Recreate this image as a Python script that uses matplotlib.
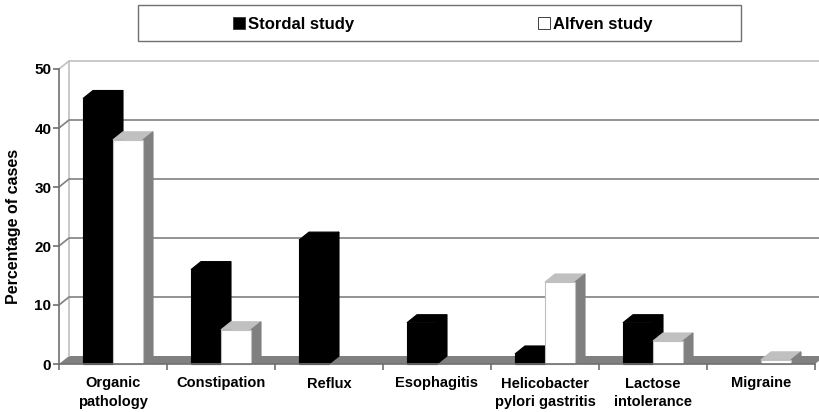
"""
Percentage of cases per diagnosis, faux 3D bars
"""

import matplotlib

matplotlib.use("Agg")
import matplotlib.pyplot as plt
from matplotlib.lines import Line2D
from matplotlib.patches import Rectangle

categories = [
    "Organic\npathology",
    "Constipation",
    "Reflux",
    "Esophagitis",
    "Helicobacter\npylori gastritis",
    "Lactose\nintolerance",
    "Migraine",
]
stordal = [45, 16, 21, 7, 1.7, 7, 0]
alfven = [38, 5.8, 0, 0, 13.9, 3.9, 0.7]
y_ticks = [0, 10, 20, 30, 40, 50]

W, H = 819, 412
LEFT, RIGHT, TOP, BOTTOM = 59, 815, 69, 364
DARK = "#808080"
LIGHT = "#c0c0c0"

plt.rcParams["font.family"] = ["Liberation Sans", "DejaVu Sans"]
plt.rcParams["font.weight"] = "bold"
plt.rcParams["axes.labelweight"] = "bold"

fig = plt.figure(figsize=(W / 100, H / 100), dpi=100)
ax = fig.add_axes(
    [LEFT / W, 1 - BOTTOM / H, (RIGHT - LEFT) / W, (BOTTOM - TOP) / H]
)
ax.set_xlim(0, len(categories))
ax.set_ylim(0, 50)

# Depth of the 3D effect, in data units
dx = 10 / ((RIGHT - LEFT) / len(categories))
dy = 8 / ((BOTTOM - TOP) / 50)
bar_w = 30 / ((RIGHT - LEFT) / len(categories))
n = len(categories)


def draw_bar(x, value, front, top, side, z):
    ax.fill(
        [x, x + dx, x + bar_w + dx, x + bar_w],
        [value, value + dy, value + dy, value],
        facecolor=top, edgecolor=top, lw=0.8, zorder=z, clip_on=False,
    )
    ax.fill(
        [x + bar_w, x + bar_w + dx, x + bar_w + dx, x + bar_w],
        [0, dy, value + dy, value],
        facecolor=side, edgecolor=side, lw=0.8, zorder=z, clip_on=False,
    )
    ax.fill(
        [x, x + bar_w, x + bar_w, x],
        [0, 0, value, value],
        facecolor=front, edgecolor=LIGHT if front == "white" else "black",
        lw=0.8, zorder=z + 0.1, clip_on=False,
    )


# Floor and walls
ax.fill(
    [0, dx, n + dx, n], [0, dy, dy, 0], color=DARK, lw=0, zorder=1, clip_on=False
)
ax.plot([dx, dx], [dy, 50 + dy], color=LIGHT, lw=1.2, zorder=1, clip_on=False)
for tick in y_ticks[1:]:
    color = LIGHT if tick == 50 else DARK
    ax.plot(
        [0, dx, n + dx], [tick, tick + dy, tick + dy],
        color=color, lw=1.2, zorder=1.5, clip_on=False,
    )

for i in range(n):
    x_black = i + 0.5 - bar_w
    x_white = i + 0.5
    if stordal[i] > 0:
        draw_bar(x_black, stordal[i], "black", "black", "black", 3)
    if alfven[i] > 0:
        draw_bar(x_white, alfven[i], "white", LIGHT, DARK, 4)

# Axes
for name in ["top", "right"]:
    ax.spines[name].set_visible(False)
for name in ["left", "bottom"]:
    ax.spines[name].set_color("#707070")
    ax.spines[name].set_linewidth(1.2)
    ax.spines[name].set_zorder(6)

ax.set_yticks(y_ticks)
ax.tick_params(axis="y", length=4, width=1.2, color="#707070", pad=1.5, labelsize=11)
ax.set_xticks(range(n + 1))
ax.set_xticklabels([])
ax.set_xticks([i + 0.5 for i in range(n)], minor=True)
ax.set_xticklabels(categories, minor=True, fontsize=10.5, linespacing=1.4)
ax.tick_params(axis="x", which="major", length=4, width=1.2, color="#707070")
ax.tick_params(axis="x", which="minor", length=0, pad=9)
ax.set_ylabel("Percentage of cases", fontsize=11.5, va="center")
ax.yaxis.set_label_coords((14 - LEFT) / (RIGHT - LEFT), (BOTTOM - 226) / (BOTTOM - TOP))

# Legend box
fig.add_artist(
    Rectangle(
        (138 / W, 1 - 41 / H), 603 / W, 36 / H, transform=fig.transFigure,
        facecolor="white", edgecolor="#707070", lw=1,
    )
)
for x, label, fill in [(239, "Stordal study", "black"), (544, "Alfven study", "white")]:
    fig.add_artist(
        Line2D(
            [x / W], [1 - 23 / H], marker="s", markersize=8.5, linestyle="none",
            markerfacecolor=fill, markeredgecolor="#404040",
            markeredgewidth=0.7, transform=fig.transFigure,
        )
    )
    fig.text((x + 9) / W, 1 - 24 / H, label, fontsize=12, va="center")

fig.savefig("out.png", dpi=100)
plt.close(fig)
